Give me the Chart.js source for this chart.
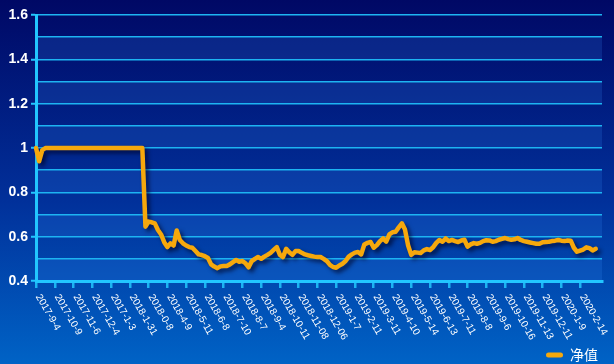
<!DOCTYPE html>
<html lang="zh">
<head>
<meta charset="UTF-8">
<title>净值</title>
<style>
  html, body { margin: 0; padding: 0; }
  body { width: 614px; height: 364px; overflow: hidden;
         background: linear-gradient(180deg, #000865 0%, #01309a 55%, #0063c6 100%); }
  #chart-container { position: relative; width: 614px; height: 364px; }
</style>
</head>
<body>
<div id="chart-container">
  <canvas id="nav-chart"></canvas>
</div>
<script src="https://cdn.jsdelivr.net/npm/chart.js"></script>
<script>
// date labels shown on the x axis, one every 6 points
const tickLabels = ['2017-9-4','2017-10-9','2017-11-6','2017-12-4','2017-1-3','2018-1-31',
  '2018-0-8','2018-4-9','2018-5-11','2018-6-8','2018-7-10','2018-8-7','2018-9-4','2018-10-11',
  '2018-11-08','2018-12-06','2019-1-7','2019-2-11','2019-3-11','2019-4-10','2019-5-14',
  '2019-6-13','2019-7-11','2019-8-8','2019-9-6','2019-10-16','2019-11-13','2019-12-11',
  '2020-1-9','2020-2-14']
const step = 6
const slots = 182

// net value
const navValues = [
  1.0, 0.94, 0.99, 1.0, 1.0, 1.0,
  1.0, 1.0, 1.0, 1.0, 1.0, 1.0,
  1.0, 1.0, 1.0, 1.0, 1.0, 1.0,
  1.0, 1.0, 1.0, 1.0, 1.0, 1.0,
  1.0, 1.0, 1.0, 1.0, 1.0, 1.0,
  1.0, 1.0, 1.0, 1.0, 1.0, 0.645,
  0.668, 0.665, 0.66, 0.63, 0.61, 0.575,
  0.553, 0.57, 0.56, 0.628, 0.585, 0.57,
  0.56, 0.553, 0.55, 0.535, 0.52, 0.517,
  0.512, 0.504, 0.475, 0.465, 0.458, 0.466,
  0.468, 0.468, 0.475, 0.485, 0.495, 0.487,
  0.49, 0.48, 0.462, 0.49, 0.50, 0.508,
  0.50, 0.51, 0.518, 0.527, 0.54, 0.553,
  0.518, 0.508, 0.545, 0.53, 0.518, 0.535,
  0.535, 0.527, 0.52, 0.516, 0.513, 0.51,
  0.508, 0.508, 0.50, 0.49, 0.473, 0.463,
  0.46, 0.47, 0.478, 0.49, 0.51, 0.52,
  0.528, 0.531, 0.52, 0.565, 0.572, 0.576,
  0.55, 0.562, 0.58, 0.592, 0.578, 0.61,
  0.62, 0.622, 0.642, 0.66, 0.632, 0.56,
  0.518, 0.53, 0.528, 0.526, 0.538, 0.544,
  0.54, 0.552, 0.572, 0.585, 0.577, 0.592,
  0.58, 0.585, 0.58, 0.576, 0.583, 0.586,
  0.555, 0.565, 0.571, 0.568, 0.572, 0.58,
  0.584, 0.583, 0.577, 0.58, 0.586, 0.59,
  0.594, 0.589, 0.586, 0.588, 0.594, 0.585,
  0.58, 0.577, 0.574, 0.571, 0.568, 0.568,
  0.575, 0.576, 0.577, 0.58, 0.582, 0.585,
  0.582, 0.58, 0.583, 0.582, 0.55, 0.532,
  0.537, 0.542, 0.552, 0.548, 0.538, 0.545
]

const lineColor = '#f6a80c'
const cyan = '#1db4f2'

const categories = []
for (let i = 0; i < slots; i++) {
  categories.push(i % step === 0 && i / step < tickLabels.length ? tickLabels[i / step] : '')
}

Chart.defaults.font.family = '"Liberation Sans", Arial, sans-serif'

// light bands between every other 0.1 gridline
const bandPlugin = {
  id: 'bands',
  afterLayout(chart) {
    // legend sits a bit lower than chart.js puts it
    chart.legend.top += 8
    chart.legend.bottom += 8
  },
  beforeDraw(chart) {
    const y = chart.scales.y, a = chart.chartArea, ctx = chart.ctx
    ctx.save()
    ctx.fillStyle = 'rgba(60,150,255,0.17)'
    for (let k = 0; k < 6; k++) {
      const lo = 0.4 + 0.2 * k
      const top = y.getPixelForValue(lo + 0.1), bot = y.getPixelForValue(lo)
      ctx.fillRect(a.left, top, a.right - a.left, bot - top)
    }
    ctx.restore()
  }
}

const shadowPlugin = {
  id: 'lineShadow',
  beforeDatasetDraw(chart) {
    const ctx = chart.ctx
    ctx.save()
    ctx.shadowColor = 'rgba(0,0,30,0.65)'
    ctx.shadowBlur = 4
    ctx.shadowOffsetX = 3
    ctx.shadowOffsetY = 3
  },
  afterDatasetDraw(chart) { chart.ctx.restore() }
}

// rotated date labels, text starting at the tick
const xLabelPlugin = {
  id: 'xLabels',
  afterDraw(chart) {
    const x = chart.scales.x, ctx = chart.ctx
    ctx.save()
    ctx.font = '10px "Liberation Sans", Arial, sans-serif'
    ctx.fillStyle = '#ffffff'
    ctx.textAlign = 'left'
    ctx.textBaseline = 'middle'
    tickLabels.forEach((t, k) => {
      const px = x.getPixelForValue(k * step)
      ctx.save()
      ctx.translate(px + 2, x.top + 14)
      ctx.rotate(Math.PI / 3)
      ctx.fillText(t, 0, 0)
      ctx.restore()
    })
    ctx.restore()
  }
}

new Chart(document.getElementById('nav-chart'), {
  type: 'line',
  data: {
    labels: categories,
    datasets: [{
      label: '净值',
      data: navValues,
      borderColor: lineColor,
      backgroundColor: lineColor,
      borderWidth: 4.5,
      pointRadius: 0,
      tension: 0,
      borderJoinStyle: 'round',
      borderCapStyle: 'round',
      fill: false
    }]
  },
  options: {
    responsive: true,
    maintainAspectRatio: false,
    animation: false,
    layout: { padding: { top: 15, right: 12, bottom: 0, left: 0 } },
    plugins: {
      tooltip: { enabled: false },
      legend: {
        position: 'bottom',
        align: 'end',
        labels: {
          color: '#ffffff',
          padding: 4,
          boxWidth: 17,
          boxHeight: 5,
          useBorderRadius: true,
          borderRadius: 2.5,
          font: { family: '"Noto Sans CJK SC", sans-serif', size: 14 },
          generateLabels: () => [{ text: '净值', fillStyle: lineColor, strokeStyle: lineColor,
            lineWidth: 0, borderRadius: 2.5, datasetIndex: 0, hidden: false, fontColor: '#ffffff' }]
        }
      }
    },
    scales: {
      x: {
        offset: false,
        ticks: { display: false, autoSkip: false },
        grid: {
          drawOnChartArea: false,
          tickLength: 7,
          lineWidth: 2.5,
          color: c => (c.index % step === 0 && c.index / step < tickLabels.length) ? cyan : 'transparent'
        },
        border: { color: '#22c6ff', width: 3 },
        afterFit: s => { s.height = 55 }
      },
      y: {
        min: 0.4,
        max: 1.6,
        ticks: {
          stepSize: 0.1,
          color: '#ffffff',
          padding: 3,
          font: { size: 14, weight: 'bold' },
          callback: v => Math.round(v * 10) % 2 === 0 ? String(Math.round(v * 10) / 10) : ''
        },
        grid: {
          color: cyan,
          lineWidth: 1.5,
          tickLength: 5,
          tickWidth: 2,
          tickColor: c => (c.tick && c.tick.label !== '') ? '#22c6ff' : 'transparent'
        },
        border: { color: '#22c6ff', width: 3 },
        afterFit: s => { s.width = 36 }
      }
    }
  },
  plugins: [bandPlugin, shadowPlugin, xLabelPlugin]
})
</script>
</body>
</html>
